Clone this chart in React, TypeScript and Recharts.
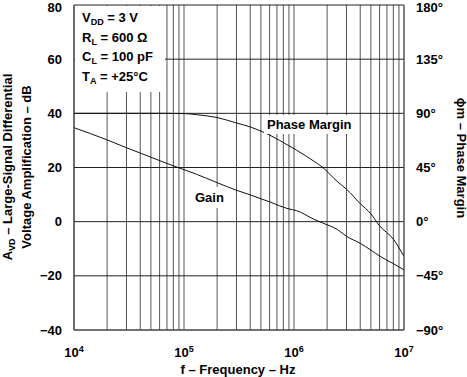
import React from "react";
import {
  LineChart,
  Line,
  XAxis,
  YAxis,
  CartesianGrid,
} from "recharts";

// frequency points (Hz)
const freqs = [
  1e4, 2e4, 3e4, 5e4, 7e4, 1e5, 1.3e5, 2e5, 3e5, 4e5, 6e5, 9e5, 1.05e6, 1.5e6,
  1.8e6, 2.5e6, 3e6, 4e6, 5e6, 6e6, 8e6, 1e7,
];
// large-signal differential voltage amplification, dB
const gainDb = [
  34.7, 30.2, 27.3, 23.8, 21.5, 19.2, 17.5, 14.4, 11.6, 9.9, 7.3, 4.7, 4.1,
  1.0, -0.4, -3.0, -5.4, -8, -10.5, -12.7, -15.5, -17.8,
];
// phase margin, degrees
const phaseDeg = [
  90, 90, 90, 90, 90, 89.8, 88.9, 86.5, 82, 78.7, 72, 63, 59.5, 50.5, 45.5, 33,
  27, 15, 6.5, -3.5, -14.5, -29,
];

const decades = [1e4, 1e5, 1e6, 1e7];
const gridTicks = [
  1e4, 2e4, 3e4, 4e4, 5e4, 6e4, 7e4, 8e4, 9e4,
  1e5, 2e5, 3e5, 4e5, 5e5, 6e5, 7e5, 8e5, 9e5,
  1e6, 2e6, 3e6, 4e6, 5e6, 6e6, 7e6, 8e6, 9e6, 1e7,
];
const gainTicks = [-40, -20, 0, 20, 40, 60, 80];
const phaseTicks = [-90, -45, 0, 45, 90, 135, 180];

const data = freqs.map((f, i) => ({ f, gain: gainDb[i], phase: phaseDeg[i] }));

const FONT = "'Liberation Sans', Arial, Helvetica, sans-serif";

const DecadeTick = (props: any) => {
  const { x, y, payload } = props;
  const v = payload.value;
  if (!decades.includes(v)) return <g />;
  const exp = Math.round(Math.log10(v));
  return (
    <text
      x={x}
      y={y + 19}
      textAnchor="middle"
      fontFamily={FONT}
      fontWeight="bold"
      fontSize={13}
      fill="#000"
    >
      10
      <tspan dy={-5} fontSize={9}>
        {exp}
      </tspan>
    </text>
  );
};

// y tick: keeps the top label inside the page
const ValueTick = (props: any) => {
  const { x, y, payload, textAnchor, unit } = props;
  const v = payload.value as number;
  const label = (v < 0 ? `\u2212${-v}` : `${v}`) + (unit || "");
  return (
    <text
      x={x}
      y={Math.max(y, 7)}
      dy="0.355em"
      textAnchor={textAnchor}
      fontFamily={FONT}
      fontWeight="bold"
      fontSize={13}
      fill="#000"
    >
      {label}
    </text>
  );
};

const textStyle: React.CSSProperties = {
  position: "absolute",
  fontFamily: FONT,
  fontWeight: "bold",
  fontSize: 13,
  color: "#000",
  whiteSpace: "nowrap",
  lineHeight: 1,
};

const Sub = ({ children }: { children: React.ReactNode }) => (
  <span style={{ fontSize: 9, position: "relative", top: 3 }}>{children}</span>
);

export default function App() {
  return (
    <div
      style={{
        position: "absolute",
        left: 0,
        top: 0,
        width: 467,
        height: 377,
        background: "#fff",
      }}
    >
      <LineChart
        width={467}
        height={377}
        data={data}
        margin={{ top: 5, right: 0, bottom: 0, left: 0 }}
      >
        <CartesianGrid
          yAxisId="left"
          horizontal={false}
          stroke="#555"
          strokeWidth={1}
        />
        <CartesianGrid
          yAxisId="left"
          vertical={false}
          stroke="#222"
          strokeWidth={1}
        />
        <XAxis
          dataKey="f"
          type="number"
          scale="log"
          domain={[1e4, 1e7]}
          ticks={gridTicks}
          interval={0}
          allowDataOverflow
          height={47}
          tickLine={false}
          axisLine={{ stroke: "#555" }}
          tick={<DecadeTick />}
        />
        <YAxis
          yAxisId="left"
          domain={[-40, 80]}
          ticks={gainTicks}
          interval={0}
          width={74}
          tickLine={false}
          axisLine={{ stroke: "#333" }}
          tickMargin={6}
          tick={<ValueTick />}
        />
        <YAxis
          yAxisId="right"
          orientation="right"
          domain={[-90, 180]}
          ticks={phaseTicks}
          interval={0}
          width={63}
          tickLine={false}
          axisLine={{ stroke: "#555" }}
          tickMargin={6}
          tick={<ValueTick unit={"\u00b0"} />}
        />
        <Line
          yAxisId="left"
          dataKey="gain"
          type="monotone"
          stroke="#111"
          strokeWidth={1}
          dot={false}
          isAnimationActive={false}
        />
        <Line
          yAxisId="right"
          dataKey="phase"
          type="monotone"
          stroke="#111"
          strokeWidth={1}
          dot={false}
          isAnimationActive={false}
        />
      </LineChart>

      {/* conditions box */}
      <div
        style={{
          position: "absolute",
          left: 75,
          top: 6,
          width: 90,
          height: 86,
          background: "#fff",
        }}
      />
      <div style={{ ...textStyle, left: 82, top: 11 }}>
        V<Sub>DD</Sub> = 3 V
      </div>
      <div style={{ ...textStyle, left: 82, top: 31 }}>
        R<Sub>L</Sub> = 600 Ω
      </div>
      <div style={{ ...textStyle, left: 82, top: 50 }}>
        C<Sub>L</Sub> = 100 pF
      </div>
      <div style={{ ...textStyle, left: 82, top: 70 }}>
        T<Sub>A</Sub> = +25°C
      </div>

      <div
        style={{
          ...textStyle,
          left: 264,
          top: 115,
          padding: "3px 3px",
          background: "#fff",
        }}
      >
        Phase Margin
      </div>
      <div
        style={{
          ...textStyle,
          left: 192,
          top: 187,
          padding: "4px 3px",
          background: "#fff",
        }}
      >
        Gain
      </div>

      {/* axis titles */}
      <div
        style={{
          ...textStyle,
          left: 238,
          top: 369,
          transform: "translate(-50%, -50%)",
        }}
      >
        f – Frequency – Hz
      </div>
      <div
        style={{
          ...textStyle,
          left: 17,
          top: 167,
          transform: "translate(-50%, -50%) rotate(-90deg)",
          textAlign: "center",
          lineHeight: "18px",
        }}
      >
        A<Sub>VD</Sub> – Large-Signal Differential
        <br />
        Voltage Amplification – dB
      </div>
      <div
        style={{
          ...textStyle,
          left: 461,
          top: 158,
          transform: "translate(-50%, -50%) rotate(90deg)",
        }}
      >
        ϕm – Phase Margin
      </div>
    </div>
  );
}
